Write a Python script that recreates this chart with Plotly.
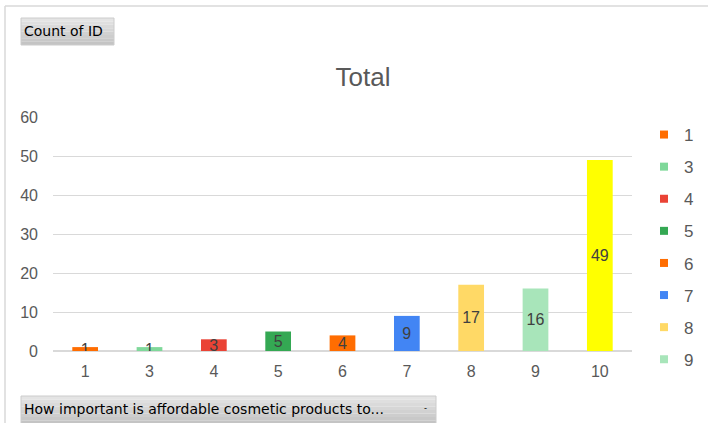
import plotly.graph_objects as go

categories = ["1", "3", "4", "5", "6", "7", "8", "9", "10"]
counts = [1, 1, 3, 5, 4, 9, 17, 16, 49]
colors = ["#FF6D01", "#7FD89A", "#EA4335", "#34A853", "#FF6D01",
          "#4285F4", "#FFD966", "#A8E5BA", "#FFFF00"]
show_in_legend = [True, True, True, True, True, True, True, True, False]
y_ticks = [0, 10, 20, 30, 40, 50, 60]

W, H = 708, 423
L, R, T, B = 53, 632, 117, 351


def px(x):
    return (x - L) / (R - L)


def py(y):
    return (B - y) / (B - T)


fig = go.Figure()
for cat, val, col in zip(categories, counts, colors):
    fig.add_trace(go.Bar(
        x=[cat], y=[val], name=cat, marker=dict(color=col, line=dict(width=0)),
        width=0.4, text=[str(val)], textposition="inside",
        insidetextanchor="middle", textangle=0,
        textfont=dict(color="#404040", size=16, family="Liberation Sans, Arial"),
        showlegend=False, legendgroup=cat,
    ))
# legend entries (small square keys)
for cat, col, sl in zip(categories, colors, show_in_legend):
    if sl:
        fig.add_trace(go.Scatter(
            x=[None], y=[None], mode="markers", name=cat, legendgroup=cat,
            marker=dict(symbol="square", size=8, color=col, line=dict(width=0)),
        ))

shapes = []
# outer frame lines
shapes.append(dict(type="line", xref="paper", yref="paper", x0=px(5), x1=px(708),
                   y0=py(6), y1=py(6), line=dict(color="#d9d9d9", width=1.5)))
shapes.append(dict(type="line", xref="paper", yref="paper", x0=px(5), x1=px(5),
                   y0=py(6), y1=py(423), line=dict(color="#d9d9d9", width=1.5)))


def button(x0, x1, y0, y1):
    n = 8
    for i in range(n):
        t = i / (n - 1)
        g = int(228 - t * 32)
        ya = y0 + (y1 - y0) * i / n
        yb = y0 + (y1 - y0) * (i + 1) / n
        shapes.append(dict(type="rect", xref="paper", yref="paper",
                           x0=px(x0), x1=px(x1), y0=py(ya), y1=py(yb),
                           fillcolor=f"rgb({g},{g},{g})", line=dict(width=0), layer="below"))
    shapes.append(dict(type="rect", xref="paper", yref="paper",
                       x0=px(x0), x1=px(x1), y0=py(y0), y1=py(y1),
                       fillcolor="rgba(0,0,0,0)", line=dict(color="#cccccc", width=1)))


button(21, 114, 18, 45)
button(21, 436, 396, 424)

annotations = [
    dict(text="Count of ID", xref="paper", yref="paper", x=px(22), y=py(31.5),
         xanchor="left", yanchor="middle", showarrow=False,
         font=dict(size=14, color="#000000", family="DejaVu Sans")),
    dict(text="How important is affordable cosmetic products to...", xref="paper", yref="paper",
         x=px(22), y=py(409), xanchor="left", yanchor="middle", showarrow=False,
         font=dict(size=14, color="#000000", family="DejaVu Sans")),
    dict(text="-", xref="paper", yref="paper", x=px(425), y=py(408),
         xanchor="center", yanchor="middle", showarrow=False,
         font=dict(size=9, color="#000000", family="Liberation Sans")),
]

fig.update_layout(
    width=W, height=H,
    margin=dict(l=L, r=W - R, t=T, b=H - B, autoexpand=False),
    paper_bgcolor="white", plot_bgcolor="white",
    barmode="overlay",
    title=dict(text="Total", x=363 / W, xanchor="center", y=1 - 77 / H, yanchor="middle",
               font=dict(size=26, color="#595959", family="Liberation Sans, Arial")),
    xaxis=dict(type="category", categoryorder="array", categoryarray=categories,
               showgrid=False, showline=False, ticks="", zeroline=False,
               ticklabelstandoff=9, automargin=False,
               tickfont=dict(size=16, color="#595959", family="Liberation Sans, Arial")),
    yaxis=dict(range=[0, 60], tickvals=y_ticks, showgrid=True, gridcolor="#d9d9d9",
               gridwidth=1, zeroline=True, zerolinecolor="#d9d9d9", zerolinewidth=1.5,
               showline=False, ticks="", ticklabelstandoff=14, automargin=False,
               tickfont=dict(size=16, color="#595959", family="Liberation Sans, Arial")),
    legend=dict(x=px(644), y=py(117), xanchor="left", yanchor="top",
                traceorder="grouped", tracegroupgap=7, itemwidth=30, maxheight=320,
                font=dict(size=17, color="#595959", family="Liberation Sans, Arial"),
                bgcolor="rgba(0,0,0,0)"),
    uniformtext=dict(minsize=16, mode="show"),
    shapes=shapes,
    annotations=annotations,
    font=dict(family="Liberation Sans, Arial"),
)

fig.write_html("out.html", config={"displayModeBar": False},
               post_script="document.body.style.margin='0px';document.body.style.overflow='hidden';")
